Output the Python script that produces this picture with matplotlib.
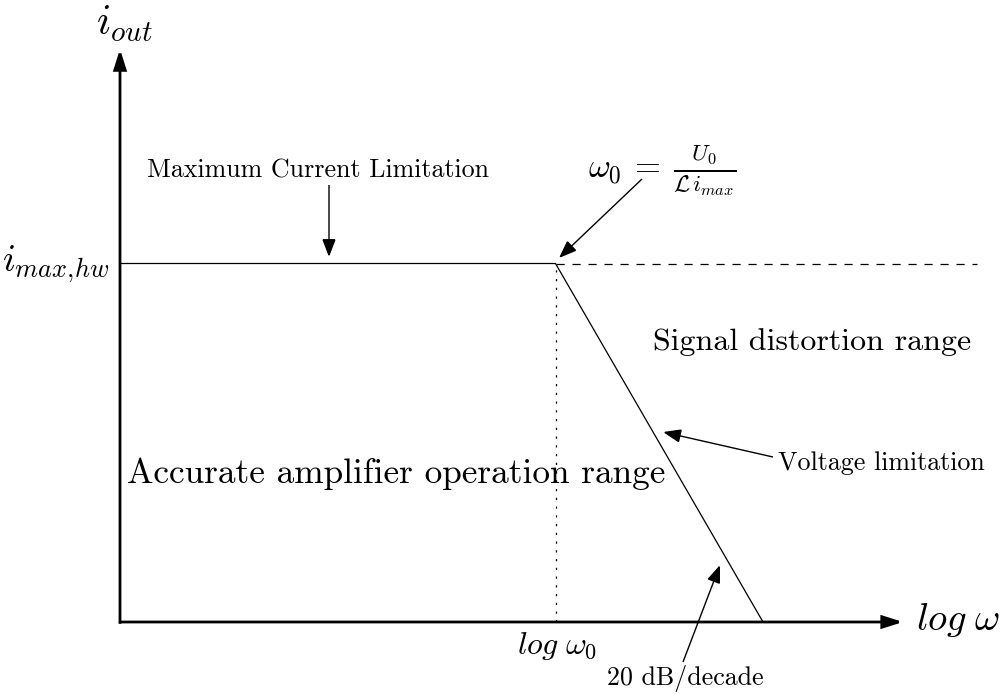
import matplotlib
matplotlib.use('Agg')
import matplotlib.pyplot as plt
from matplotlib.patches import FancyArrowPatch

plt.rcParams['font.family'] = 'serif'
plt.rcParams['font.serif'] = ['cmr10']
plt.rcParams['mathtext.fontset'] = 'cm'
plt.rcParams['axes.unicode_minus'] = False

# corner points of the current bound (log w, i_out normalised to i_max)
log_w = [0.0, 2.0, 2.953]
i_out = [1.0, 1.0, 0.0]
# i_max continued as dashed line past w0
dash_w = [2.0, 3.936]
dash_i = [1.0, 1.0]
# ends of the axes arrows
x_axis_end = 3.596
y_axis_end = 1.598

fig = plt.figure(figsize=(10.01, 6.95), dpi=100)
ax = fig.add_axes([0, 0, 1, 1])
ax.set_xlim(-120 / 217.75, 881 / 217.75)
ax.set_ylim(-73 / 358.5, 622 / 358.5)
ax.axis('off')


def px(x, y):
    # layout helper: position given in image pixels -> data units
    return ((x - 120) / 217.75, (622 - y) / 358.5)


def arrow(p0, p1, lw=1.0, hl=11, hw=4.2):
    a = FancyArrowPatch(p0, p1, arrowstyle='-|>,head_length=%g,head_width=%g' % (hl, hw),
                        mutation_scale=1, lw=lw, color='black', shrinkA=0, shrinkB=0,
                        joinstyle='miter', capstyle='butt')
    ax.add_patch(a)


# axes
arrow((-0.005, 0), (x_axis_end, 0), lw=2.0, hl=12, hw=3.8)
arrow((0, -0.005), (0, y_axis_end), lw=2.0, hl=12, hw=3.8)

ax.plot(log_w, i_out, color='black', lw=0.9)
ax.plot(dash_w, dash_i, color='black', lw=0.9, dashes=(6.5, 6.3))
ax.plot([log_w[1], log_w[1]], [0, i_out[1]], color='black', lw=0.9, ls=(0, (1.8, 5.2)))

# axis labels
ax.text(*px(124, 24), r'$i_{out}$', fontsize=30, ha='center', va='center')
ax.text(*px(958, 620), r'$log\;\omega$', fontsize=28, ha='center', va='center')
ax.text(*px(110, 264), r'$i_{max,\!hw}$', fontsize=27, ha='right', va='center')
ax.text(*px(557, 646), r'$log\;\omega_0$', fontsize=23, ha='center', va='center')

# annotations
ax.text(*px(318, 171), 'Maximum Current Limitation', fontsize=18.7, ha='center', va='center')
arrow(px(329, 185), px(329, 257))

ax.text(*px(662, 170), r'$\omega_0\:=\:\frac{U_0}{\mathcal{L}\,i_{max}}$', fontsize=24,
        ha='center', va='center')
arrow(px(642, 179), px(559, 258))

ax.text(*px(812, 342), 'Signal distortion range', fontsize=23, ha='center', va='center')
ax.text(*px(396, 474), 'Accurate amplifier operation range', fontsize=25.4, ha='center', va='center')

ax.text(*px(881, 463), 'Voltage limitation', fontsize=18.7, ha='center', va='center')
arrow(px(773, 457), px(663, 432))

ax.text(*px(685, 678), '20 dB/decade', fontsize=18.7, ha='center', va='center')
arrow(px(683, 662), px(720, 565))

fig.savefig('out.png', dpi=100)
